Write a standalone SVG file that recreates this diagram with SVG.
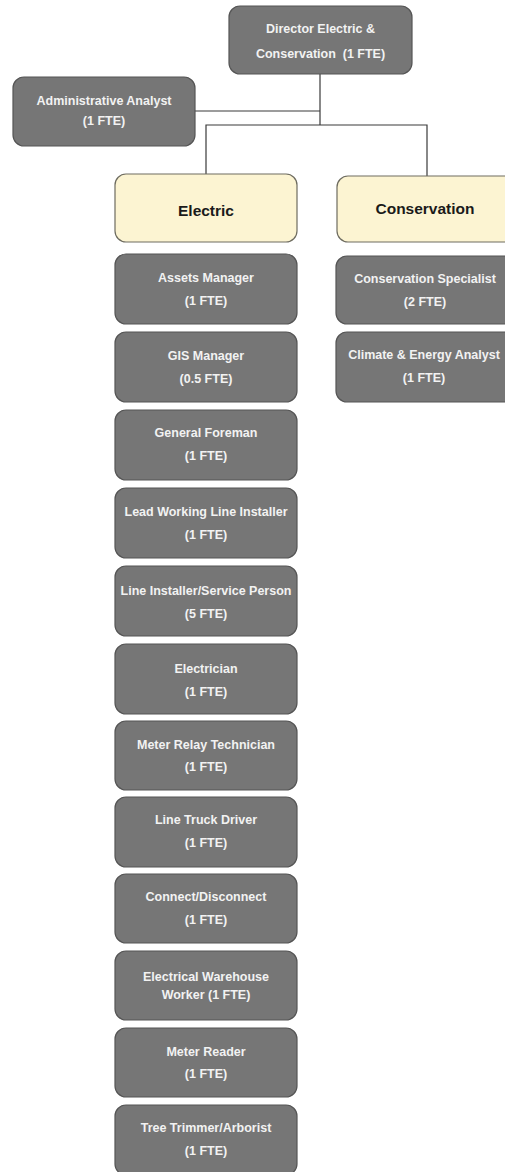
<svg xmlns="http://www.w3.org/2000/svg" width="505" height="1172" viewBox="0 0 505 1172">
<style>
.g{fill:#767676;stroke:#555;stroke-width:1.2}
.y{fill:#fcf4d2;stroke:#6e6c60;stroke-width:1.2}
.t{font-family:"Liberation Sans",Arial,sans-serif;font-weight:bold;font-size:12.5px;fill:#f2f2f2;text-anchor:middle;white-space:pre}
.h{font-family:"Liberation Sans",Arial,sans-serif;font-weight:bold;font-size:15.5px;fill:#1a1a1a;text-anchor:middle}
.c{fill:none;stroke:#3a3a3a;stroke-width:1.2}
</style>
<rect width="505" height="1172" fill="#fff"/>
<g id="connectors">
<path class="c" d="M320 74V125M195 111H320M206 174V125H427V176"/>
</g>
<g id="director"><rect class="g" x="229" y="6" width="183" height="68" rx="11"/><text class="t" x="320.5" y="33">Director Electric &amp;</text><text class="t" x="320.5" y="58" xml:space="preserve">Conservation  (1 FTE)</text></g>
<g id="admin"><rect class="g" x="13" y="77" width="182" height="69" rx="11"/><text class="t" x="104" y="105">Administrative Analyst</text><text class="t" x="104" y="125">(1 FTE)</text></g>
<g id="electric"><rect class="y" x="115" y="174" width="182" height="68" rx="11"/><text class="h" x="206" y="216">Electric</text></g>
<g id="conservation"><rect class="y" x="337" y="176" width="182" height="66" rx="11"/><text class="h" x="425" y="214">Conservation</text></g>
<g id="cons-specialist"><rect class="g" x="336" y="256" width="182" height="68" rx="11"/><text class="t" x="425" y="283">Conservation Specialist</text><text class="t" x="425" y="306">(2 FTE)</text></g>
<g id="climate"><rect class="g" x="336" y="332" width="182" height="70" rx="11"/><text class="t" x="424" y="359">Climate &amp; Energy Analyst</text><text class="t" x="424" y="382">(1 FTE)</text></g>
<g id="assets"><rect class="g" x="115" y="254" width="182" height="70" rx="11"/><text class="t" x="206" y="282">Assets Manager</text><text class="t" x="206" y="305">(1 FTE)</text></g>
<g id="gis"><rect class="g" x="115" y="332" width="182" height="70" rx="11"/><text class="t" x="206" y="360">GIS Manager</text><text class="t" x="206" y="383">(0.5 FTE)</text></g>
<g id="foreman"><rect class="g" x="115" y="410" width="182" height="70" rx="11"/><text class="t" x="206" y="437">General Foreman</text><text class="t" x="206" y="460">(1 FTE)</text></g>
<g id="lead"><rect class="g" x="115" y="488" width="182" height="70" rx="11"/><text class="t" x="206" y="516">Lead Working Line Installer</text><text class="t" x="206" y="539">(1 FTE)</text></g>
<g id="installer"><rect class="g" x="115" y="566" width="182" height="70" rx="11"/><text class="t" x="206" y="595">Line Installer/Service Person</text><text class="t" x="206" y="618">(5 FTE)</text></g>
<g id="electrician"><rect class="g" x="115" y="644" width="182" height="70" rx="11"/><text class="t" x="206" y="673">Electrician</text><text class="t" x="206" y="696">(1 FTE)</text></g>
<g id="meter-relay"><rect class="g" x="115" y="721" width="182" height="69" rx="11"/><text class="t" x="206" y="749">Meter Relay Technician</text><text class="t" x="206" y="771">(1 FTE)</text></g>
<g id="truck"><rect class="g" x="115" y="797" width="182" height="70" rx="11"/><text class="t" x="206" y="824">Line Truck Driver</text><text class="t" x="206" y="847">(1 FTE)</text></g>
<g id="connect"><rect class="g" x="115" y="874" width="182" height="69" rx="11"/><text class="t" x="206" y="901">Connect/Disconnect</text><text class="t" x="206" y="924">(1 FTE)</text></g>
<g id="warehouse"><rect class="g" x="115" y="951" width="182" height="69" rx="11"/><text class="t" x="206" y="981">Electrical Warehouse</text><text class="t" x="206" y="999">Worker (1 FTE)</text></g>
<g id="meter-reader"><rect class="g" x="115" y="1028" width="182" height="69" rx="11"/><text class="t" x="206" y="1056">Meter Reader</text><text class="t" x="206" y="1078">(1 FTE)</text></g>
<g id="tree"><rect class="g" x="115" y="1105" width="182" height="70" rx="11"/><text class="t" x="206" y="1132">Tree Trimmer/Arborist</text><text class="t" x="206" y="1155">(1 FTE)</text></g>
</svg>
